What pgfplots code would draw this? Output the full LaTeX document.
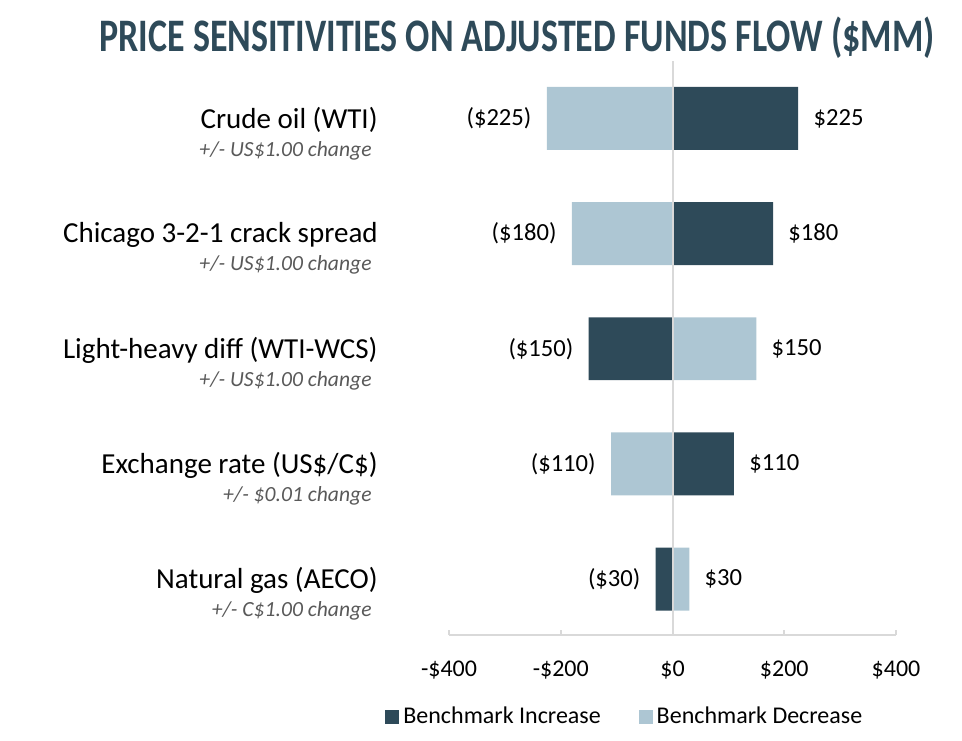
\documentclass[border=0pt]{standalone}
\usepackage{pgfplots}
\pgfplotsset{compat=1.18}
\usepackage{fontspec}
\setmainfont{Carlito}
\usepackage{graphicx}
\definecolor{dark}{HTML}{2E4A59}
\definecolor{light}{HTML}{ADC6D3}
\definecolor{linegray}{HTML}{D9D9D9}
\definecolor{subgray}{HTML}{595959}
\newcommand{\sub}[1]{{\fontsize{10.8pt}{14pt}\selectfont\itshape\color{subgray}#1\hspace*{3pt}}}
\begin{document}
\begin{tikzpicture}
\useasboundingbox (0pt,0pt) rectangle (481pt,370pt);
\node[anchor=base, text=dark, inner sep=0pt] at (258.5pt,344pt) {\resizebox{417.5pt}{\height}{\fontsize{23.3pt}{28pt}\selectfont\bfseries PRICE SENSITIVITIES ON ADJUSTED FUNDS FLOW (\$MM)}};
\begin{axis}[
  at={(224.5pt,52.5pt)}, anchor=south west,
  scale only axis, width=223.5pt, height=287pt,
  xmin=-400, xmax=400, ymin=-0.486, ymax=4.499,
  xbar, bar width=0.547, bar shift=0pt,
  axis x line*=bottom, axis y line*=left,
  x axis line style={draw=linegray, line width=1pt, -},
  y axis line style={draw=none},
  every outer x axis line/.append style={-},
  xtick={-400,-200,0,200,400},
  xticklabels={-\$400,-\$200,\$0,\$200,\$400},
  xtick style={draw=linegray, line width=1pt},
  tick align=inside, major tick length=2.5pt,
  xticklabel style={font=\fontsize{12pt}{14pt}\selectfont, yshift=-9.5pt},
  ytick={0,1,2,3,4},
  yticklabels={
    {Natural gas (AECO)\\\sub{+/- C\$1.00 change}},
    {Exchange rate (US\$/C\$)\\\sub{+/- \$0.01 change}},
    {Light-heavy diff (WTI-WCS)\\\sub{+/- US\$1.00 change}},
    {Chicago 3-2-1 crack spread\\\sub{+/- US\$1.00 change}},
    {Crude oil (WTI)\\\sub{+/- US\$1.00 change}}},
  ytick style={draw=none},
  yticklabel style={align=right, anchor=east, inner sep=0pt, xshift=-35.5pt, yshift=-7.5pt,
    font=\fontsize{14.5pt}{14pt}\selectfont},
  nodes near coords, point meta=explicit symbolic,
  visualization depends on={x \as \rawx},
  every node near coord/.append style={font=\fontsize{12.3pt}{14pt}\selectfont, text=black,
    inner xsep=7.5pt, inner ysep=0pt,
    anchor=\ifdim\rawx pt<0pt east\else west\fi},
  legend columns=2,
  legend style={at={(-0.1432,-0.142)}, anchor=west, draw=none, inner sep=0pt,
    font=\fontsize{12pt}{14pt}\selectfont,
    /tikz/every even column/.append style={column sep=17pt}},
  legend image code/.code={\fill[#1] (0pt,-3.5pt) rectangle (7pt,3.5pt);},
  clip=false,
]
\addplot[fill=dark, draw=none] coordinates {
  (225,4) [\$225]
  (180,3) [\$180]
  (-150,2) [(\$150)]
  (110,1) [\$110]
  (-30,0) [(\$30)]
};
\addplot[fill=light, draw=none] coordinates {
  (-225,4) [(\$225)]
  (-180,3) [(\$180)]
  (150,2) [\$150]
  (-110,1) [(\$110)]
  (30,0) [\$30]
};
\legend{Benchmark Increase, Benchmark Decrease}
\draw[linegray, line width=1pt] (axis cs:0,-0.486) -- (axis cs:0,4.499);
\end{axis}
\end{tikzpicture}
\end{document}
